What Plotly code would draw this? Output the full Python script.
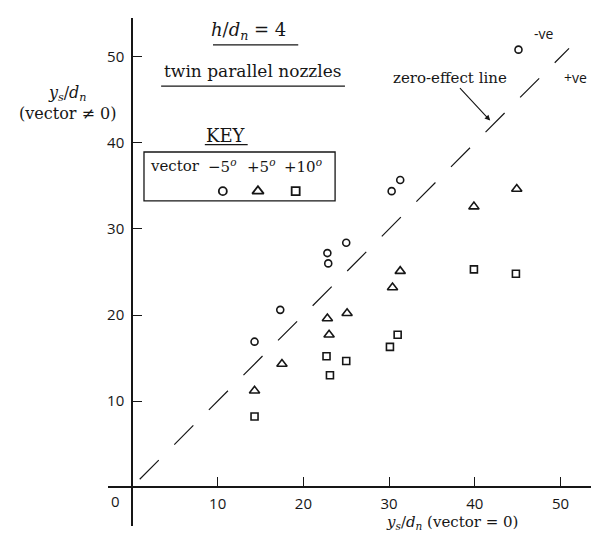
import plotly.graph_objects as go

# axis extents and ticks (data units)
x_range = [-2.8, 55.43]
y_range = [-4.53, 54.53]
x_ticks = [10, 20, 30, 40, 50]
y_ticks = [10, 20, 30, 40, 50]

# y_s/d_n with vector = 0 (x) against vector != 0 (y)
minus5_x = [14.3, 17.3, 22.8, 22.9, 25.0, 30.3, 31.3, 45.1]
minus5_y = [16.9, 20.6, 27.2, 26.0, 28.4, 34.4, 35.7, 50.85]

plus5_x = [14.3, 17.5, 22.8, 23.0, 25.1, 30.4, 31.3, 39.9, 44.9]
plus5_y = [11.2, 14.3, 19.6, 17.7, 20.2, 23.2, 25.1, 32.6, 34.65]

plus10_x = [14.3, 22.7, 23.1, 25.0, 30.1, 31.0, 39.9, 44.8]
plus10_y = [8.2, 15.2, 13.0, 14.65, 16.3, 17.7, 25.3, 24.8]

zero_line = [0.9, 51.0]

# key (legend) box
key_labels = ['\u22125<sup><i>o</i></sup>', '+5<sup><i>o</i></sup>', '+10<sup><i>o</i></sup>']
key_label_x = [10.5, 15.0, 19.9]
key_symbol_x = [10.6, 14.7, 19.1]

ink = '#161616'
serif = 'DejaVu Serif'
hand = 'Open Sans'

fig = go.Figure()

fig.add_trace(go.Scatter(
    x=zero_line, y=zero_line, mode='lines',
    line=dict(color=ink, width=1.2, dash='27px,22px'),
    showlegend=False, hoverinfo='skip'))

series = [
    (minus5_x, minus5_y, 'circle-open', 7),
    (plus5_x, plus5_y, 'triangle-up-open', 9),
    (plus10_x, plus10_y, 'square-open', 7),
]
for i, (xs, ys, sym, sz) in enumerate(series):
    fig.add_trace(go.Scatter(
        x=xs, y=ys, mode='markers',
        marker=dict(symbol=sym, size=sz, color=ink, line=dict(color=ink, width=1.6)),
        showlegend=False))
    # matching symbol inside the key box
    fig.add_trace(go.Scatter(
        x=[key_symbol_x[i]], y=[34.4], mode='markers',
        marker=dict(symbol=sym, size=sz + 1, color=ink, line=dict(color=ink, width=1.8)),
        showlegend=False, hoverinfo='skip'))

# key box and underlines
fig.add_shape(type='rect', x0=1.4, x1=23.7, y0=33.26, y1=38.95,
              line=dict(color=ink, width=1.3))
for x0, x1, y in [(9.45, 19.4, 51.4), (3.4, 24.85, 46.6), (8.5, 13.5, 39.8)]:
    fig.add_shape(type='line', x0=x0, x1=x1, y0=y, y1=y, line=dict(color=ink, width=1.2))

def note(text, x, y, size=16, family=serif, xanchor='center', ref='data'):
    r = ('x', 'y') if ref == 'data' else ('paper', 'paper')
    fig.add_annotation(text=text, x=x, y=y, xref=r[0], yref=r[1], showarrow=False,
                       xanchor=xanchor, yanchor='middle',
                       font=dict(family=family, size=size, color=ink))

note('<i>h</i>/<i>d<sub>n</sub></i> = 4', 13.65, 53.0, size=18)
note('twin parallel nozzles', 14.1, 48.4, size=17)
note('KEY', 11.0, 40.9, size=18)
note('vector', 1.9, 37.33, size=15, xanchor='left')
for lab, lx in zip(key_labels, key_label_x):
    note(lab, lx, 37.33, size=15)
note('-ve', 48.0, 52.7, size=14, family=hand)
note('+ve', 51.7, 47.6, size=14, family=hand)
note('0', -1.9, -1.63, size=15, family=hand)
note('<i>y<sub>s</sub></i>/<i>d<sub>n</sub></i><br>(vector \u2260 0)', 59 / 599, 1 - 95 / 537,
     ref='paper')
note('<i>y<sub>s</sub></i>/<i>d<sub>n</sub></i> (vector = 0)', 444 / 599, 1 - 514 / 537,
     size=15, ref='paper')

fig.add_annotation(text='zero-effect line', x=41.8, y=42.6, xref='x', yref='y',
                   ax=-40, ay=-43, showarrow=True, arrowhead=2, arrowsize=1,
                   arrowwidth=1.1, arrowcolor=ink,
                   font=dict(family=serif, size=15, color=ink))

fig.update_xaxes(range=x_range, domain=[100 / 599, 1], anchor='free', position=58 / 537,
                 showline=True, linecolor=ink, linewidth=1.5, showgrid=False, zeroline=False,
                 ticks='inside', ticklen=9, tickwidth=1.2, tickcolor=ink,
                 tickvals=x_ticks, ticklabelstandoff=3,
                 tickfont=dict(family=hand, size=15, color=ink))
fig.update_yaxes(range=y_range, domain=[19 / 537, 527 / 537], anchor='free', position=124 / 599,
                 showline=True, linecolor=ink, linewidth=1.5, showgrid=False, zeroline=False,
                 ticks='inside', ticklen=9, tickwidth=1.2, tickcolor=ink,
                 tickvals=y_ticks, ticklabelstandoff=4,
                 tickfont=dict(family=hand, size=15, color=ink))

fig.update_layout(width=599, height=537, margin=dict(l=0, r=0, t=0, b=0),
                  plot_bgcolor='white', paper_bgcolor='white', showlegend=False)

fig.write_html("out.html")
